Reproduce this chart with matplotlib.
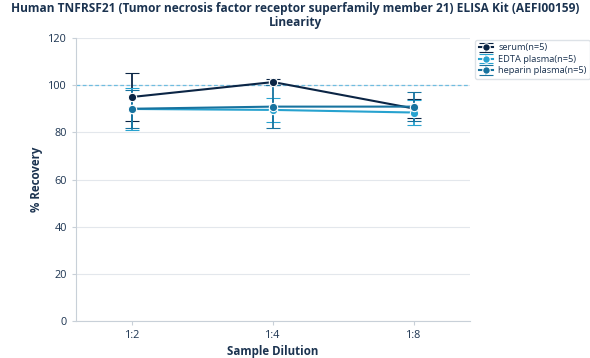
import matplotlib
matplotlib.use("Agg")
import matplotlib.pyplot as plt
import numpy as np

plt.rcParams['font.family'] = ['Open Sans', 'DejaVu Sans']

dilutions = ['1:2', '1:4', '1:8']
serum = [95.0, 101.3, 90.1]
serum_err = [10.0, 1.4, 4.0]
edta = [89.9, 89.5, 88.4]
edta_err = [9.0, 5.0, 5.5]
heparin = [90.0, 90.9, 90.9]
heparin_err = [8.0, 9.0, 6.0]

series = [
    ('serum(n=5)', serum, serum_err, '#0b2545'),
    ('EDTA plasma(n=5)', edta, edta_err, '#27a2cf'),
    ('heparin plasma(n=5)', heparin, heparin_err, '#17739f'),
]

txt = '#1b3350'
fig = plt.figure(figsize=(5.9, 3.58), dpi=100)
ax = fig.add_axes([0.129, 0.103, 0.668, 0.791])
x = np.arange(len(dilutions))

ax.axhline(100, color='#6fbde0', lw=0.9, ls=(0, (3, 2)), zorder=1)
for label, vals, errs, col in series:
    ax.errorbar(x, vals, yerr=errs, color=col, lw=1.5, capsize=5, capthick=1.3,
                elinewidth=1.3, marker='o', ms=6, mec='white', mew=0.8,
                label=label, zorder=3)

ax.set_xlim(-0.4, 2.4)
ax.set_ylim(0, 120)
ax.set_yticks(range(0, 121, 20))
ax.set_xticks(x)
ax.set_xticklabels(dilutions)
ax.grid(axis='y', color='#e3e7ec', lw=0.8)
ax.set_axisbelow(True)
for s in ['top', 'right']:
    ax.spines[s].set_visible(False)
for s in ['left', 'bottom']:
    ax.spines[s].set_color('#c8d0d8')
ax.tick_params(colors='#c8d0d8', labelcolor=txt, labelsize=7.8, length=3)

ax.set_xlabel('Sample Dilution', fontsize=8.3, fontweight='bold', color=txt, labelpad=3)
ax.set_ylabel('% Recovery', fontsize=8.3, fontweight='bold', color=txt)
fig.suptitle('Human TNFRSF21 (Tumor necrosis factor receptor superfamily member 21) ELISA Kit (AEFI00159)\nLinearity',
             fontsize=8.6, fontweight='bold', color=txt, y=0.995, linespacing=1.1)

leg = ax.legend(loc='upper left', bbox_to_anchor=(1.0, 1.01), fontsize=6.7, frameon=True,
                handlelength=1.6, handletextpad=0.5, borderpad=0.4, labelspacing=0.25,
                markerscale=0.9)
leg.get_frame().set_edgecolor('#d5dbe1')
for t in leg.get_texts():
    t.set_color(txt)

fig.savefig('out.png', dpi=100)
